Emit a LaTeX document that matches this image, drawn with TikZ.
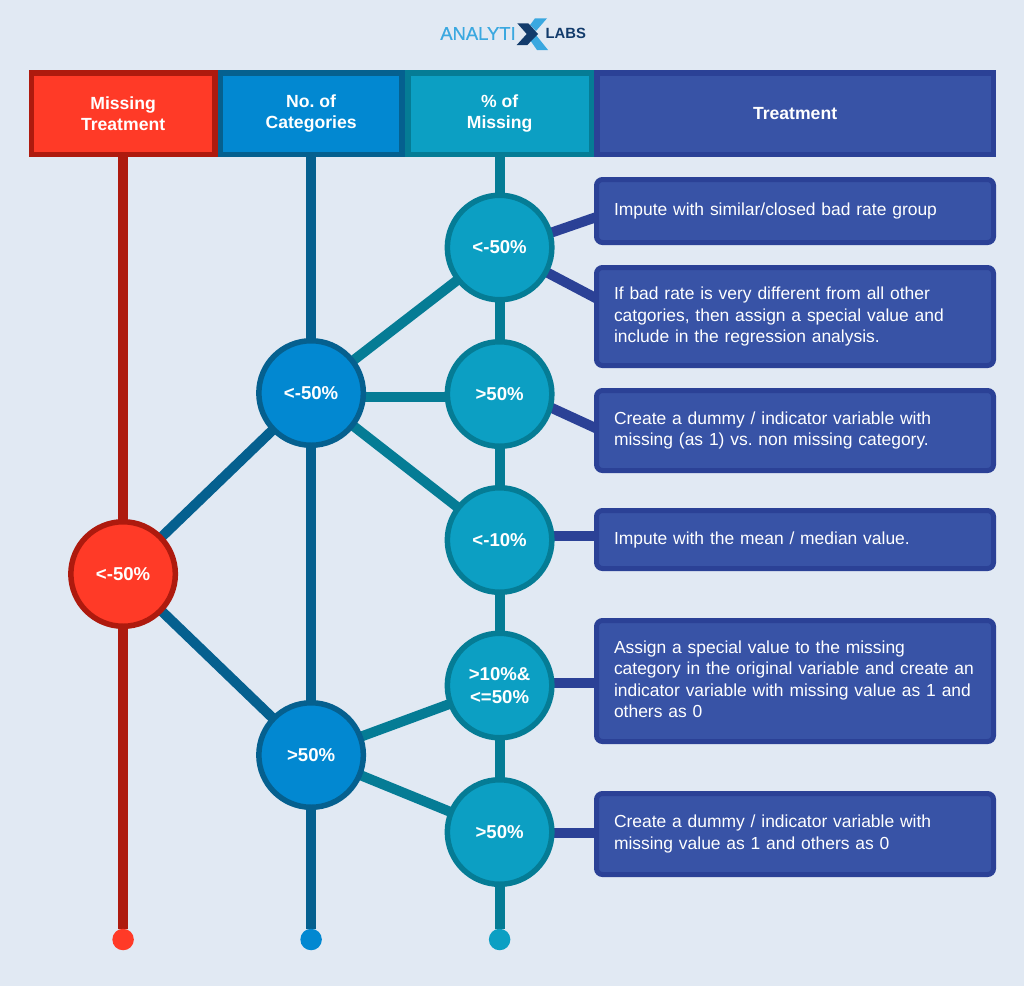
\documentclass[tikz,border=0pt]{standalone}
\usepackage{fontspec}
\setmainfont{Liberation Sans}
\newfontfamily\logofont[FakeBold=0.5]{Liberation Sans}
\usepackage{xcolor}
\usetikzlibrary{positioning, backgrounds}
\definecolor{pagebg}{HTML}{E1E9F3}
\definecolor{redfill}{HTML}{FF3A27}
\definecolor{reddark}{HTML}{AE1A0E}
\definecolor{bluefill}{HTML}{0288D1}
\definecolor{bluedark}{HTML}{05608F}
\definecolor{tealfill}{HTML}{0C9FC3}
\definecolor{tealdark}{HTML}{057C95}
\definecolor{navyfill}{HTML}{3853A6}
\definecolor{navydark}{HTML}{2B4196}
\definecolor{logolight}{HTML}{3AA8E0}
\definecolor{logodark}{HTML}{123B6B}
\tikzset{
  header/.style={rectangle, line width=5.5pt, inner sep=0pt, outer sep=0pt, minimum height=81.5pt,
                 align=center, text=white, font=\fontsize{17.6}{21.5}\selectfont\bfseries\frenchspacing},
  choice/.style={circle, line width=5.5pt, inner sep=0pt, outer sep=0pt, minimum size=104.5pt,
                 align=center, text=white, font=\fontsize{18.6}{23}\selectfont\bfseries},
  treat/.style={rectangle, rounded corners=6pt, line width=5pt, draw=navydark, fill=navyfill,
                inner xsep=17.5pt, inner ysep=0pt, outer sep=0pt, text width=362pt, align=left,
                text=white, font=\fontsize{17.45}{21.5}\selectfont\frenchspacing},
  enddot/.style={circle, inner sep=0pt, outer sep=0pt, minimum size=21.5pt},
  spine/.style={line width=10pt},
  link/.style={line width=10pt},
}

\begin{document}
\begin{tikzpicture}[x=1pt, y=-1pt]

  % --- Logo ---
  \node[inner sep=0pt, text=logolight, font=\fontsize{18.4}{20}\logofont] (logoa) at (478,33.5) {ANALYTI};
  \node[inner sep=0pt, text=logodark, font=\fontsize{14.8}{16}\selectfont\bfseries] (logob) at (565.8,33.5) {LABS};
  \fill[logolight] (535,18.3) -- (547,18.3) -- (536,31) -- (530,25) -- cycle;
  \fill[logolight] (530,40) -- (536,35) -- (548,50) -- (537,50) -- cycle;
  \fill[logodark] (517.3,23.3) -- (528.3,23.3) -- (538,34) -- (527.3,45) -- (516.7,45) -- (526.7,34) -- cycle;

  % --- Headers ---
  \node[header, draw=reddark, fill=redfill, minimum width=183.5pt] (hmiss) at (123.1,113.5) {Missing\\Treatment};
  \node[header, draw=bluedark, fill=bluefill, minimum width=181.5pt, right=5.5pt of hmiss] (hcat) {No. of\\Categories};
  \node[header, draw=tealdark, fill=tealfill, minimum width=183.5pt, right=6pt of hcat] (hpct) {\% of\\Missing};
  \node[header, draw=navydark, fill=navyfill, minimum width=396.4pt, right=5.5pt of hpct] (htreat) {Treatment};

  % --- Missing treatment ---
  \node[choice, draw=reddark, fill=redfill] (miss) at (123.1,574) {<-50\%};

  % --- Categories ---
  \node[choice, draw=bluedark, fill=bluefill] (catlow) at (311.1,393) {<-50\%};
  \node[choice, draw=bluedark, fill=bluefill] (cathigh) at (311.1,755) {>50\%};

  % --- Percent missing ---
  \node[choice, draw=tealdark, fill=tealfill] (pcta) at (499.6,247.5) {<-50\%};
  \node[choice, draw=tealdark, fill=tealfill] (pctb) at (499.6,394) {>50\%};
  \node[choice, draw=tealdark, fill=tealfill] (pctc) at (499.6,540) {<-10\%};
  \node[choice, draw=tealdark, fill=tealfill] (pctd) at (499.6,685.5) {>10\%\&\\<=50\%};
  \node[choice, draw=tealdark, fill=tealfill] (pcte) at (499.6,832) {>50\%};

  % --- Treatments ---
  \node[treat, minimum height=63pt] (tra) at (795,211) {Impute with similar/closed bad rate group};
  \node[treat, minimum height=98pt, below=25pt of tra] (trb)
        {If bad rate is very different from all other\\ catgories, then assign a special value and\\ include in the regression analysis.};
  \node[treat, minimum height=80pt, below=25pt of trb] (trc)
        {Create a dummy / indicator variable with\\ missing (as 1) vs. non missing category.};
  \node[treat, minimum height=58pt, below=40pt of trc] (trd) {Impute with the mean / median value.};
  \node[treat, minimum height=121pt, below=52pt of trd] (tre)
        {Assign a special value to the missing\\ category in the original variable and create an\\ indicator variable with missing value as 1 and\\ others as 0\par\vspace*{4pt}};
  \node[treat, minimum height=81pt, below=52pt of tre] (trf)
        {Create a dummy / indicator variable with\\ missing value as 1 and others as 0};

  % --- End dots ---
  \node[enddot, fill=redfill] (endmiss) at (123.1,939.5) {};
  \node[enddot, fill=bluefill] (endcat) at (311.1,939.5) {};
  \node[enddot, fill=tealfill] (endpct) at (499.6,939.5) {};

  % --- Connectors ---
  \begin{scope}[on background layer]
    \fill[pagebg] (0,0) rectangle (1024,986);
    \draw[spine, reddark] (hmiss) -- (endmiss);
    \draw[spine, bluedark] (hcat) -- (endcat);
    \draw[spine, tealdark] (hpct) -- (endpct);
    \draw[link, bluedark] (miss) -- (catlow);
    \draw[link, bluedark] (miss) -- (cathigh);
    \draw[link, tealdark] (catlow) -- (pcta);
    \draw[link, tealdark] ([yshift=-4pt]catlow.center) -- ([yshift=-3pt]pctb.center);
    \draw[link, tealdark] (catlow) -- (pctc);
    \draw[link, tealdark] (cathigh) -- (pctd);
    \draw[link, tealdark] (cathigh) -- (pcte);
    \draw[link, navydark] ([yshift=-3pt]pcta.center) -- ([yshift=-6pt]tra.west);
    \draw[link, navydark] (pcta) -- ([yshift=18pt]trb.west);
    \draw[link, navydark] ([yshift=10pt]pctb.center) -- ([yshift=2pt]trc.west);
    \draw[link, navydark] ([yshift=4pt]pctc.center) -- ([yshift=3.5pt]trd.west);
    \draw[link, navydark] ([yshift=2.8pt]pctd.center) -- ([yshift=-1.7pt]tre.west);
    \draw[link, navydark] ([yshift=-1pt]pcte.center) -- ([yshift=1pt]trf.west);
  \end{scope}

\end{tikzpicture}
\end{document}
